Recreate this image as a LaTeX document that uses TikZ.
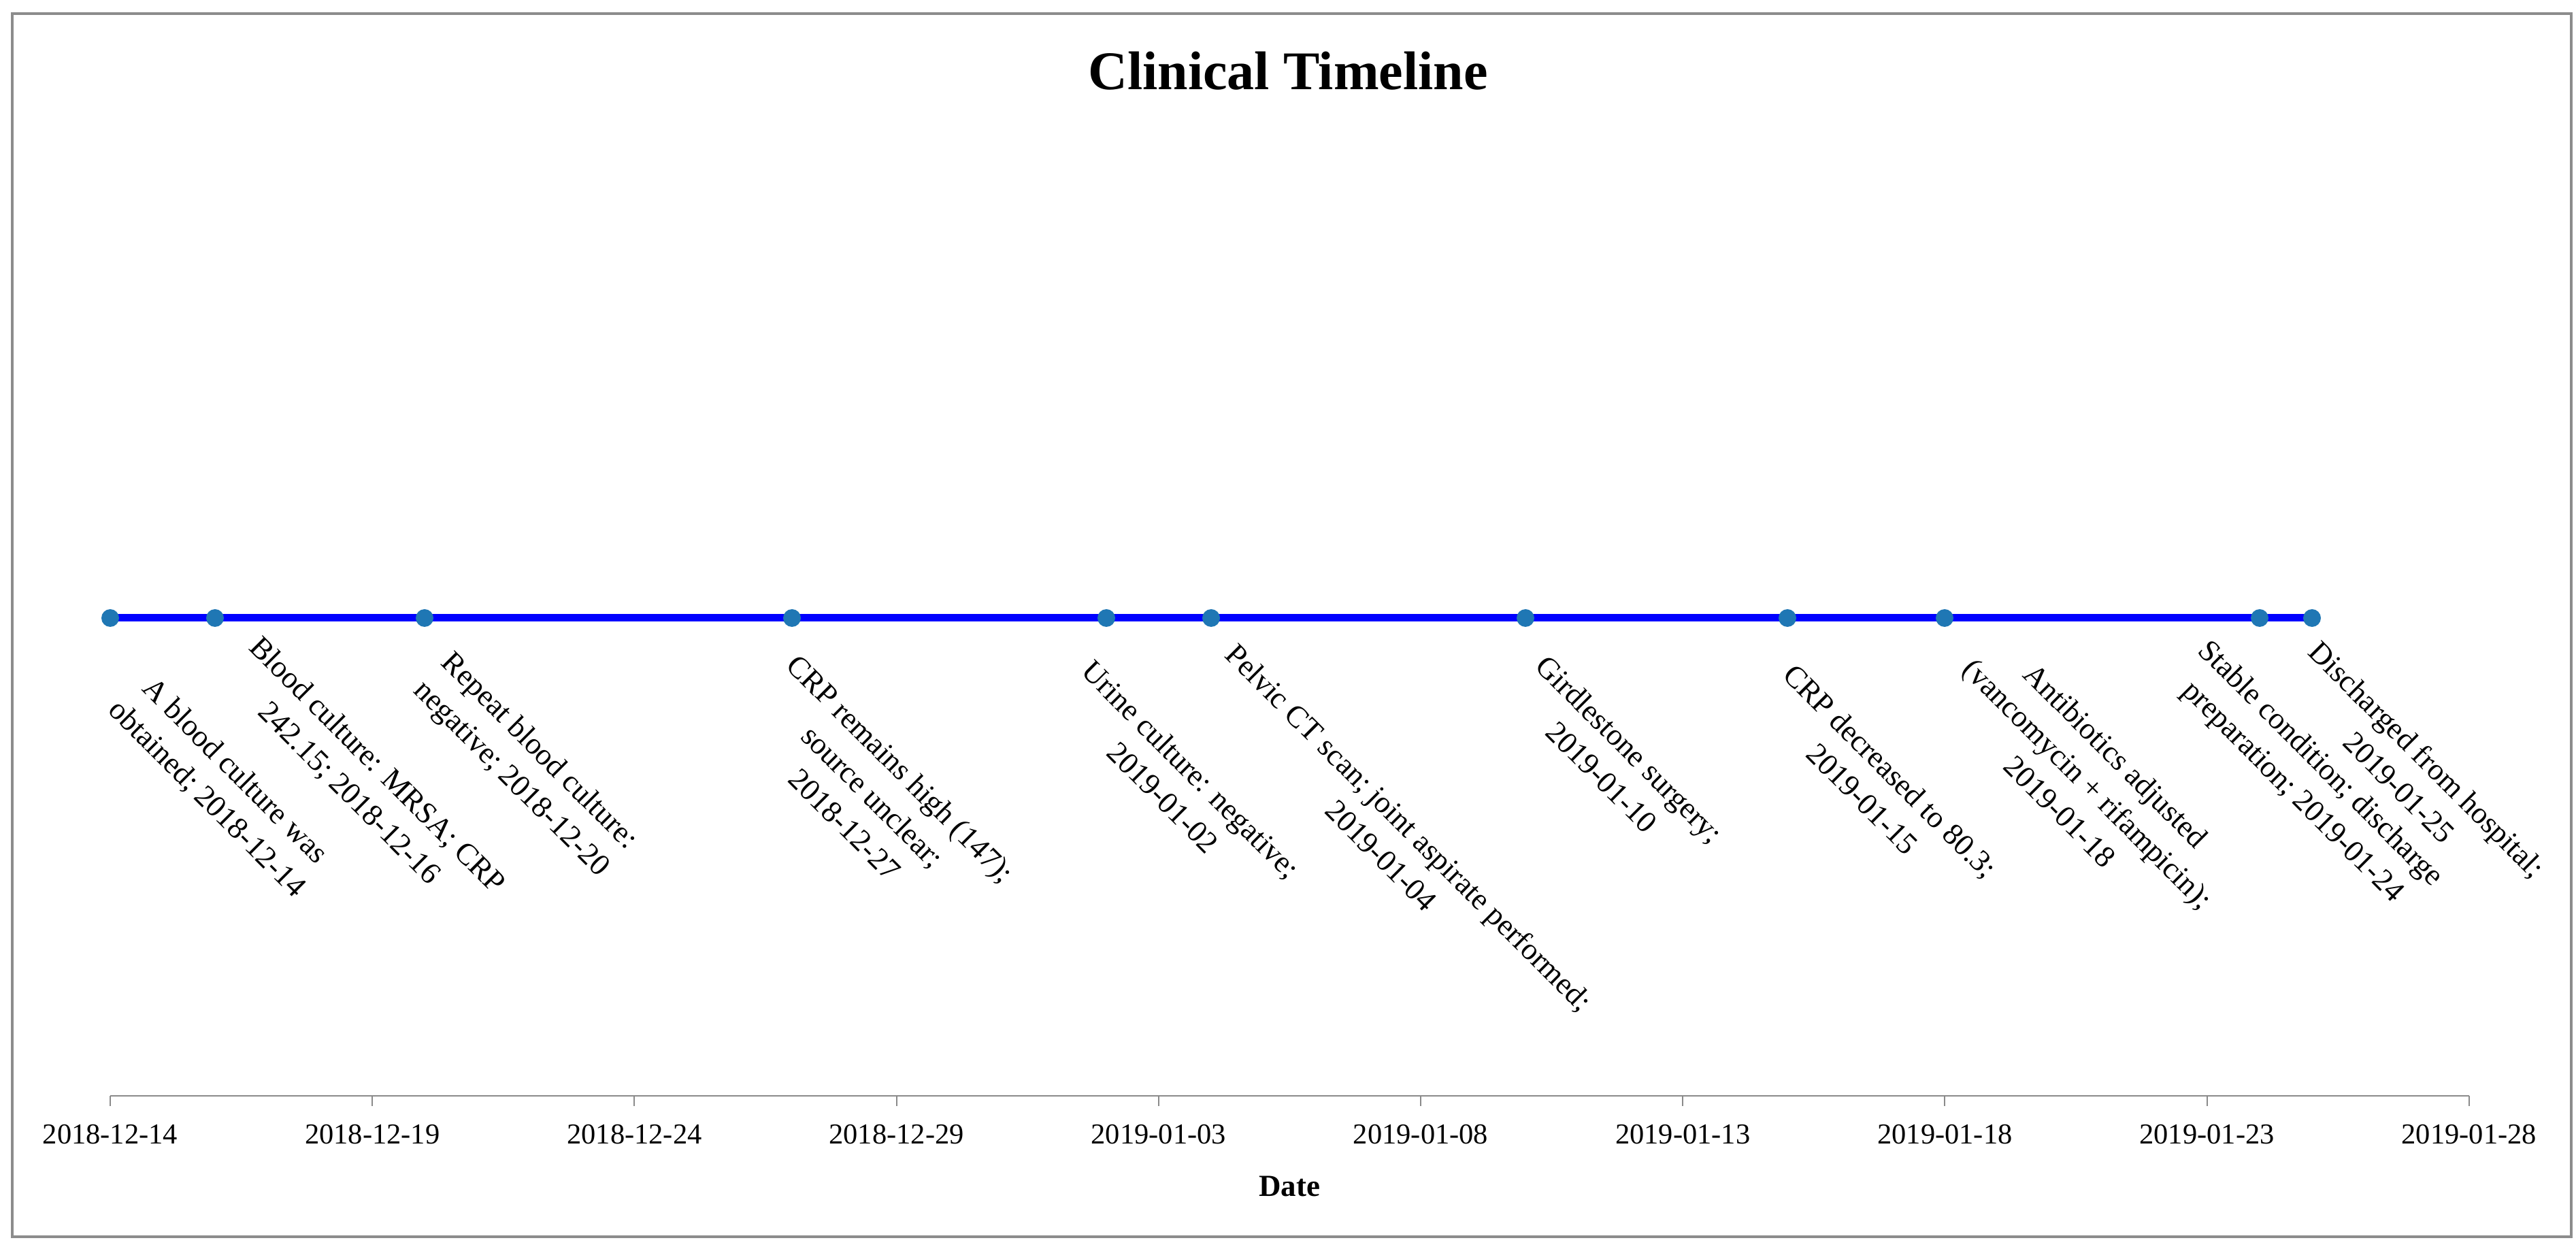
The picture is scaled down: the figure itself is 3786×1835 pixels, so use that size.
\documentclass[tikz,border=0pt]{standalone}
\usepackage{fontspec}
\setmainfont{Liberation Serif}
\definecolor{dotblue}{HTML}{1F77B4}
\definecolor{framegray}{HTML}{8C8C8C}
\definecolor{axisgray}{HTML}{8A8A8A}
\tikzset{
  frameline/.style={draw=framegray, line width=0.7pt},
  tlline/.style={draw=blue, line width=2.2pt},
  evdot/.style={circle, fill=dotblue, inner sep=0pt, minimum size=5.2pt},
  axisline/.style={draw=axisgray, line width=0.55pt},
  tickline/.style={draw=axisgray, line width=0.4pt},
  ticklab/.style={font=\fontsize{8.5}{10}\selectfont, inner sep=0pt},
  evlab/.style={rotate=-45, align=center, font=\fontsize{9}{11.6}\selectfont, inner sep=0pt},
  titlelab/.style={font=\fontsize{16}{19}\selectfont\bfseries, inner sep=0pt, anchor=base},
  axlab/.style={font=\fontsize{9}{11}\selectfont\bfseries, inner sep=0pt}
}
\begin{document}
\begin{tikzpicture}[x=0.2pt, y=-0.2pt]
\useasboundingbox (0,0) rectangle (3786,1835);
\fill[white] (0,0) rectangle (3786,1835);
% frame
\draw[frameline] (18,20) rectangle (3779,1817);
% title
\node[titlelab] (title) at (1893,132) {Clinical Timeline};
% event positions
\coordinate (p1) at (162,908);
\coordinate (p2) at (316,908);
\coordinate (p3) at (624,908);
\coordinate (p4) at (1164,908);
\coordinate (p5) at (1626,908);
\coordinate (p6) at (1780,908);
\coordinate (p7) at (2242,908);
\coordinate (p8) at (2627,908);
\coordinate (p9) at (2858,908);
\coordinate (p10) at (3321,908);
\coordinate (p11) at (3398,908);
\draw[tlline] (p1) -- (p11);
\foreach \i in {1,...,11} { \node[evdot] (dot\i) at (p\i) {}; }
% event labels
\node[evlab] (ev1) at (324,1154) {A blood culture was\\obtained; 2018-12-14};
\node[evlab] (ev2) at (533,1146) {Blood culture: MRSA; CRP\\242.15; 2018-12-16};
\node[evlab] (ev3) at (771,1125) {Repeat blood culture:\\negative; 2018-12-20};
\node[evlab] (ev4) at (1283,1170) {CRP remains high (147);\\source unclear;\\2018-12-27};
\node[evlab] (ev5) at (1730,1151) {Urine culture: negative;\\2019-01-02};
\node[evlab] (ev6) at (2051,1236) {Pelvic CT scan; joint aspirate performed;\\2019-01-04};
\node[evlab] (ev7) at (2375,1121) {Girdlestone surgery;\\2019-01-10};
\node[evlab] (ev8) at (2758,1153) {CRP decreased to 80.3;\\2019-01-15};
\node[evlab] (ev9) at (3069,1151) {Antibiotics adjusted\\(vancomycin + rifampicin);\\2019-01-18};
\node[evlab] (ev10) at (3389,1144) {Stable condition; discharge\\preparation; 2019-01-24};
\node[evlab] (ev11) at (3547,1136) {Discharged from hospital;\\2019-01-25};
% axis
\coordinate (a0) at (162,1610);
\coordinate (a9) at (3629,1610);
\draw[axisline] (a0) -- (a9);
\foreach \k/\lab in {0/2018-12-14,1/2018-12-19,2/2018-12-24,3/2018-12-29,4/2019-01-03,5/2019-01-08,6/2019-01-13,7/2019-01-18,8/2019-01-23,9/2019-01-28} {
  \coordinate (t\k) at ({162+385.2*\k},1610);
  \draw[tickline] (t\k) -- ++(0,15);
  \node[ticklab] (tl\k) at ({162+385.2*\k},1667) {\lab};
}
\node[axlab] (xlab) at (1895,1743) {Date};
\end{tikzpicture}
\end{document}
